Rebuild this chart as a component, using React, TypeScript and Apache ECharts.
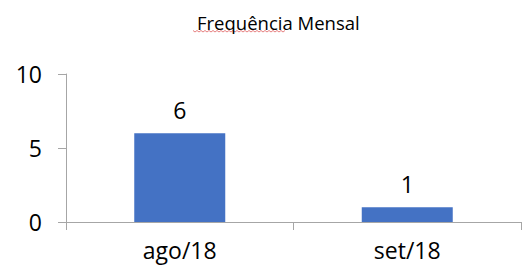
import React, { useEffect, useRef } from "react";
import * as echarts from "echarts";

const categories = ["ago/18", "set/18"];
const values = [6, 1];
const titleText = "Frequência Mensal";

export default function App() {
  const ref = useRef<HTMLDivElement>(null);
  useEffect(() => {
    if (!ref.current) return;
    const chart = echarts.init(ref.current, null, { renderer: "svg" });
    const font = "'Open Sans', sans-serif";
    const squiggle: number[][] = [];
    for (let x = 193, i = 0; x <= 286; x += 2, i++) {
      squiggle.push([x, i % 2 === 0 ? 30.5 : 32]);
    }
    chart.setOption({
      animation: false,
      title: {
        text: titleText,
        left: 192,
        top: 8,
        textStyle: { fontFamily: font, fontSize: 18.5, fontWeight: "normal", color: "#000" },
      },
      graphic: [
        {
          type: "polyline",
          shape: { points: squiggle },
          style: { stroke: "#e06060", lineWidth: 0.8, fill: null },
          silent: true,
        },
      ],
      grid: { left: 66, right: 2, top: 74, bottom: 51, containLabel: false },
      xAxis: {
        type: "category",
        data: categories,
        axisLine: { lineStyle: { color: "#a6a6a6", width: 1 } },
        axisTick: { show: true, length: 8, lineStyle: { color: "#a6a6a6" } },
        axisLabel: { fontFamily: font, fontSize: 23, color: "#000", margin: 16 },
      },
      yAxis: {
        type: "value",
        min: 0,
        max: 10,
        interval: 5,
        splitLine: { show: false },
        axisLine: { show: true, lineStyle: { color: "#a6a6a6", width: 1 } },
        axisTick: { show: true, length: 8, lineStyle: { color: "#a6a6a6" } },
        axisLabel: { fontFamily: font, fontSize: 23, color: "#000", margin: 24 },
      },
      series: [
        {
          type: "bar",
          data: values,
          barWidth: "40%",
          itemStyle: { color: "#4472c4" },
          label: {
            show: true,
            position: "top",
            distance: 12,
            fontFamily: font,
            fontSize: 23,
            color: "#000",
          },
        },
      ],
    });
    return () => chart.dispose();
  }, []);
  return <div ref={ref} style={{ width: 523, height: 273, position: "absolute", left: 0, top: 0 }} />;
}
